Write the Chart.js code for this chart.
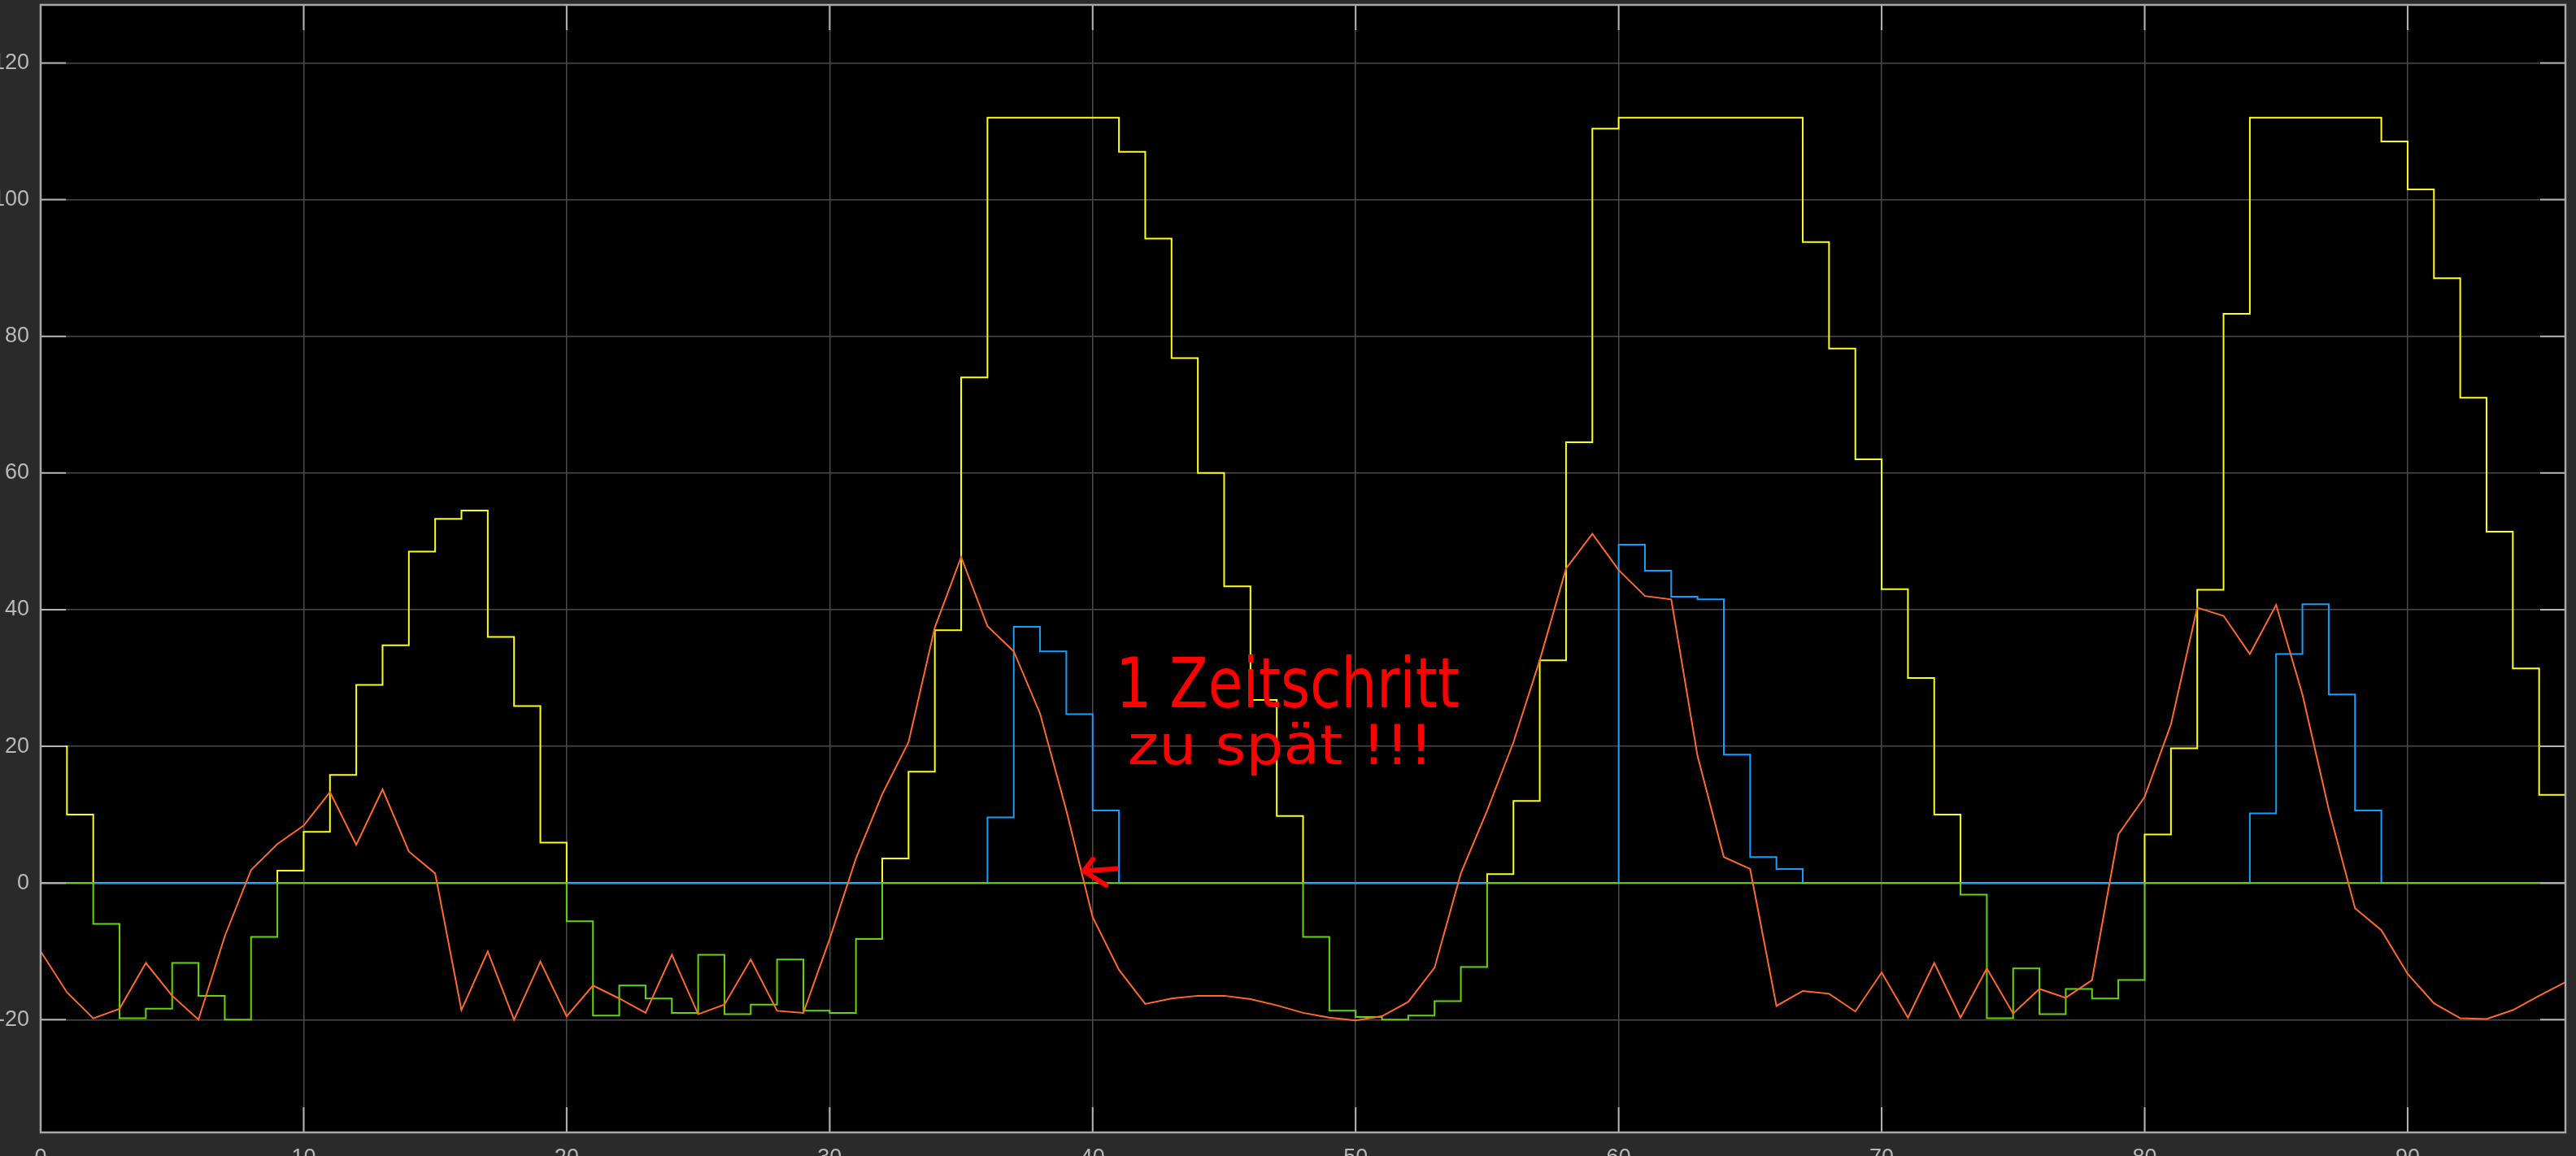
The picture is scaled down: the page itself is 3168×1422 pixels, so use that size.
<!DOCTYPE html>
<html>
<head>
<meta charset="utf-8">
<script src="https://cdn.jsdelivr.net/npm/chart.js@4/dist/chart.umd.min.js"></script>
<style>
html,body{margin:0;padding:0;background:#2a2a2a;overflow:hidden;width:3168px;height:1422px;}
#wrap{position:absolute;left:0;top:0;width:3168px;height:1422px;overflow:hidden;background:#2a2a2a;}
#c{position:absolute;left:-30px;top:0;}
</style>
</head>
<body>
<div id="wrap"><canvas id="c" width="3198" height="1460"></canvas></div>
<script>
// ---- time axis (samples) ----
const timeSteps = [0,1,2,3,4,5,6,7,8,9,10,11,12,13,14,15,16,17,18,19,20,21,22,23,24,25,26,27,28,29,30,31,32,33,34,35,36,37,38,39,40,41,42,43,44,45,46,47,48,49,50,51,52,53,54,55,56,57,58,59,60,61,62,63,64,65,66,67,68,69,70,71,72,73,74,75,76,77,78,79,80,81,82,83,84,85,86,87,88,89,90,91,92,93,94,95,96];

// ---- yellow: stepped signal (positive part) ----
const yellowValues = [20,10,0,0,0,0,0,0,0,1.8,7.5,15.8,29,34.8,48.5,53.3,54.5,36,25.9,5.9,0,0,0,0,0,0,0,0,0,0,0,0,3.6,16.3,37,74,112,112,112,112,112,107,94.3,76.8,60,43.4,26.8,9.8,0,0,0,0,0,0,0,1.3,12,32.6,64.5,110.4,112,112,112,112,112,112,112,93.8,78.2,62,43,30,10,0,0,0,0,0,0,0,7.1,19.7,42.9,83.3,112,112,112,112,112,108.5,101.5,88.5,71,51.4,31.4,12.9,0];

// ---- green: stepped signal (negative part) ----
const greenValues = [0,0,-6,-19.8,-18.4,-11.7,-16.5,-20,-7.9,0,0,0,0,0,0,0,0,0,0,0,-5.6,-19.4,-15,-16.9,-19,-10.5,-19.2,-17.8,-11.2,-18.7,-19,-8.2,0,0,0,0,0,0,0,0,0,0,0,0,0,0,0,0,-7.9,-18.7,-19.6,-20,-19.4,-17.3,-12.3,0,0,0,0,0,0,0,0,0,0,0,0,0,0,0,0,0,0,-1.7,-19.8,-12.5,-19.2,-15.5,-16.9,-14.2,0,0,0,0,0,0,0,0,0,0,0,0,0,0,0,0,-3.6];

// ---- blue: stepped pulses ----
const blueValues = [0,0,0,0,0,0,0,0,0,0,0,0,0,0,0,0,0,0,0,0,0,0,0,0,0,0,0,0,0,0,0,0,0,0,0,0,9.6,37.5,33.9,24.7,10.6,0,0,0,0,0,0,0,0,0,0,0,0,0,0,0,0,0,0,0,49.5,45.7,41.9,41.5,18.8,3.8,2.05,0,0,0,0,0,0,0,0,0,0,0,0,0,0,0,0,0,10.2,33.5,40.8,27.6,10.6,0,0,0,0,0,0,0,0];

// ---- orange: linear signal ----
const orangeValues = [-10,-16,-19.8,-18.4,-11.7,-16.5,-20,-7.8,1.9,5.7,8.4,13.3,5.6,13.7,4.6,1.4,-18.6,-10,-20,-11.5,-19.5,-15,-16.9,-19,-10.5,-19.2,-17.8,-11.2,-18.7,-19,-8.2,3.6,13,20.6,37.4,47.7,37.6,33.9,24.8,10.6,-5,-12.7,-17.7,-16.9,-16.5,-16.5,-17,-17.9,-19,-19.7,-20.1,-19.5,-17.4,-12.4,1.4,10.6,20.6,32.6,46,51.1,45.8,42,41.5,18.6,3.8,2.05,-18,-15.8,-16.2,-18.8,-13.1,-19.7,-11.7,-19.7,-12.5,-19.1,-15.5,-16.8,-14.2,7.1,12.6,23.2,40.3,39.1,33.5,40.7,27.6,10.8,-3.7,-6.9,-13.3,-17.6,-19.8,-19.9,-18.6,-16.5,-14.5];

// ---- axis ticks ----
const xTickValues = [0,10,20,30,40,50,60,70,80,90];
const yTickValues = [-20,0,20,40,60,80,100,120];

// ---- annotation ----
const noteLine1 = '1 Zeitschritt';
const noteLine2 = 'zu spät !!!';

function toPoints(vals){ return timeSteps.map((t,i)=>({x:t,y:vals[i]})); }

const COL_YELLOW = '#ffff11';
const COL_BLUE = '#139fff';
const COL_ORANGE = '#ff6929';
const COL_GREEN = '#64d413';

const framePlugin = {
  id: 'frame',
  beforeDraw(chart){
    const ctx = chart.ctx, a = chart.chartArea;
    ctx.save();
    ctx.fillStyle = '#2a2a2a';
    ctx.fillRect(0,0,chart.width,chart.height);
    ctx.fillStyle = '#000000';
    ctx.fillRect(a.left,a.top,a.right-a.left,a.bottom-a.top);
    ctx.restore();
  },
  afterDatasetsDraw(chart){
    const ctx = chart.ctx, a = chart.chartArea;
    const xs = chart.scales.x, ys = chart.scales.y;
    const tl = 31;
    ctx.save();
    ctx.strokeStyle = '#b4b4b4';
    ctx.lineWidth = 2;
    ctx.beginPath();
    xTickValues.forEach(v=>{
      const p = xs.getPixelForValue(v);
      ctx.moveTo(p,a.bottom); ctx.lineTo(p,a.bottom-tl);
      ctx.moveTo(p,a.top); ctx.lineTo(p,a.top+tl);
    });
    yTickValues.forEach(v=>{
      const p = ys.getPixelForValue(v);
      ctx.moveTo(a.left,p); ctx.lineTo(a.left+tl,p);
      ctx.moveTo(a.right,p); ctx.lineTo(a.right-tl,p);
    });
    ctx.stroke();
    ctx.strokeStyle = '#a8a8a8';
    ctx.lineWidth = 2.5;
    ctx.strokeRect(a.left,a.top,a.right-a.left,a.bottom-a.top);
    ctx.restore();
  },
  afterDraw(chart){
    const ctx = chart.ctx;
    const xs = chart.scales.x, ys = chart.scales.y;
    ctx.save();
    ctx.fillStyle = '#ff0000';
    ctx.textBaseline = 'alphabetic';
    ctx.textAlign = 'left';
    const drawText = (str, xv, yv, size, targetW) => {
      ctx.font = size + 'px "DejaVu Sans"';
      const w = ctx.measureText(str).width;
      ctx.save();
      ctx.translate(xs.getPixelForValue(xv), ys.getPixelForValue(yv));
      ctx.scale(targetW / w, 1);
      ctx.fillText(str, 0, 0);
      ctx.restore();
    };
    drawText(noteLine1, 40.88, 25.7, 86, 423);
    drawText(noteLine2, 41.34, 17.4, 68, 375);
    // hand-drawn arrow
    ctx.strokeStyle = '#ff0000';
    ctx.lineWidth = 6;
    ctx.lineCap = 'round';
    ctx.lineJoin = 'round';
    ctx.beginPath();
    ctx.moveTo(xs.getPixelForValue(40.91), ys.getPixelForValue(2.06));
    ctx.lineTo(xs.getPixelForValue(39.75), ys.getPixelForValue(1.8));
    ctx.moveTo(xs.getPixelForValue(40.01), ys.getPixelForValue(3.48));
    ctx.lineTo(xs.getPixelForValue(39.66), ys.getPixelForValue(1.74));
    ctx.lineTo(xs.getPixelForValue(40.51), ys.getPixelForValue(-0.32));
    ctx.stroke();
    ctx.restore();
  }
};

const tickFont = {family: '"Liberation Sans", Arial, sans-serif', size: 27};

new Chart(document.getElementById('c'), {
  type: 'line',
  data: {
    datasets: [
      {label:'orange', data: toPoints(orangeValues), borderColor: COL_ORANGE, borderWidth: 2, pointRadius: 0, tension: 0, fill: false, order: 0},
      {label:'green', data: toPoints(greenValues), borderColor: COL_GREEN, borderWidth: 2, pointRadius: 0, stepped: true, fill: false, order: 1},
      {label:'blue', data: toPoints(blueValues), borderColor: COL_BLUE, borderWidth: 2, pointRadius: 0, stepped: true, fill: false, order: 2},
      {label:'yellow', data: toPoints(yellowValues), borderColor: COL_YELLOW, borderWidth: 2, pointRadius: 0, stepped: true, fill: false, order: 3}
    ]
  },
  options: {
    responsive: false,
    animation: false,
    events: [],
    layout: {padding: {left: 0, right: 13, top: 6, bottom: 0}},
    plugins: {legend: {display: false}, tooltip: {enabled: false}, title: {display: false}},
    scales: {
      x: {
        type: 'linear', min: 0, max: 96,
        afterBuildTicks: s => { s.ticks = xTickValues.map(v => ({value: v})); },
        afterFit: s => { s.height = 67; s.paddingLeft = 0; s.paddingRight = 0; },
        grid: {color: '#4a4a4a', lineWidth: 1.5, drawTicks: false},
        border: {display: false},
        ticks: {color: '#b8b8b8', font: tickFont, padding: 15, autoSkip: false, maxRotation: 0}
      },
      y: {
        type: 'linear', min: -36.5, max: 128.5,
        afterBuildTicks: s => { s.ticks = yTickValues.map(v => ({value: v})); },
        afterFit: s => { s.width = 80; s.paddingTop = 0; s.paddingBottom = 0; },
        grid: {color: '#4a4a4a', lineWidth: 1.5, drawTicks: false},
        border: {display: false},
        ticks: {color: '#b8b8b8', font: tickFont, padding: 14}
      }
    }
  },
  plugins: [framePlugin]
});
</script>
</body>
</html>
